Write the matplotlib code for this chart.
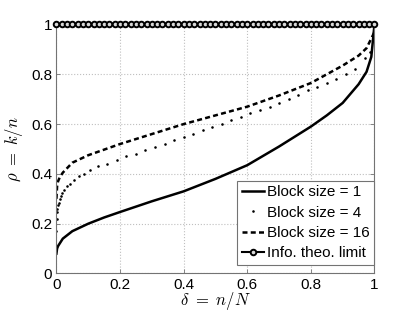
import matplotlib
matplotlib.use("Agg")
import matplotlib.pyplot as plt

plt.rcParams['font.family'] = ['Liberation Sans', 'DejaVu Sans']
plt.rcParams['mathtext.fontset'] = 'cm'

# Block size = 1 (solid)
x1 = [0, 0.002, 0.005, 0.01, 0.02, 0.05, 0.1, 0.15, 0.2, 0.3, 0.4, 0.5,
      0.6, 0.7, 0.8, 0.85, 0.9, 0.95, 0.975, 0.99, 1.0]
y1 = [0.08, 0.10, 0.11, 0.12, 0.14, 0.17, 0.20, 0.225, 0.247, 0.29, 0.33, 0.38,
      0.435, 0.51, 0.59, 0.635, 0.685, 0.76, 0.81, 0.87, 1.0]

# Block size = 4 (dots)
x4 = [0, 0.001, 0.002, 0.003, 0.005, 0.007, 0.01, 0.014, 0.019, 0.025, 0.033,
      0.043, 0.055, 0.07, 0.087, 0.107, 0.13, 0.16, 0.19, 0.22, 0.25, 0.28,
      0.31, 0.34, 0.37, 0.40, 0.43, 0.46, 0.49, 0.52, 0.55, 0.58, 0.61, 0.64,
      0.67, 0.70, 0.73, 0.76, 0.79, 0.82, 0.85, 0.88, 0.91, 0.94, 0.97, 0.985, 1.0]
y4 = [0.17, 0.22, 0.245, 0.26, 0.275, 0.285, 0.30, 0.31, 0.325, 0.335, 0.35,
      0.36, 0.375, 0.39, 0.40, 0.415, 0.43, 0.44, 0.455, 0.47, 0.48, 0.495,
      0.51, 0.52, 0.535, 0.55, 0.56, 0.575, 0.59, 0.60, 0.615, 0.63, 0.645, 0.655,
      0.67, 0.685, 0.70, 0.715, 0.735, 0.75, 0.765, 0.78, 0.80, 0.82, 0.865, 0.89, 0.96]

# Block size = 16 (dashed)
x16 = [0, 0.002, 0.005, 0.01, 0.02, 0.05, 0.1, 0.2, 0.3, 0.4, 0.5, 0.6, 0.7,
       0.8, 0.9, 0.95, 0.975, 1.0]
y16 = [0.30, 0.35, 0.37, 0.385, 0.405, 0.445, 0.475, 0.52, 0.56, 0.60, 0.635,
       0.67, 0.715, 0.765, 0.835, 0.875, 0.905, 0.97]

# Info. theo. limit
limit_x = [i / 60 for i in range(61)]
limit_y = [1.0] * 61

xticks = [0, 0.2, 0.4, 0.6, 0.8, 1]
xticklabels = ['0', '0.2', '0.4', '0.6', '0.8', '1']
yticks = [0, 0.2, 0.4, 0.6, 0.8, 1]
yticklabels = ['0', '0.2', '0.4', '0.6', '0.8', '1']

fig = plt.figure(figsize=(4.15, 3.12), dpi=100)
ax = fig.add_axes([0.136, 0.1234, 0.7664, 0.7981])

ax.plot(x1, y1, color='black', lw=1.8, label='Block size = 1')
ax.plot(x4, y4, color='black', ls='none', marker='.', ms=1.7, label='Block size = 4')
ax.plot(x16, y16, color='black', lw=1.8, ls=(0, (2.0, 1.3)), label='Block size = 16')
ax.plot(limit_x, limit_y, color='black', lw=1.5, marker='o', ms=4.0, mew=1.4,
        mfc='0.85', mec='black', clip_on=False, zorder=5, label='Info. theo. limit')

ax.set_xlim(0, 1)
ax.set_ylim(0, 1)
ax.set_xticks(xticks)
ax.set_xticklabels(xticklabels)
ax.set_yticks(yticks)
ax.set_yticklabels(yticklabels)
ax.tick_params(direction='in', length=3, width=0.6, colors='0.45', labelcolor='black',
               labelsize=11, top=True, right=True, pad=3)
for s in ax.spines.values():
    s.set_color('0.45')
    s.set_linewidth(0.8)
ax.grid(True, ls=':', color='0.75', lw=0.8)

ax.set_xlabel(r'$\delta\ =\ n/N$', fontsize=12)
ax.set_ylabel(r'$\rho\ =\ k/n$', fontsize=12)
ax.xaxis.set_label_coords(0.5, -0.065)
ax.yaxis.set_label_coords(-0.1, 0.5)

leg = ax.legend(loc='lower right', bbox_to_anchor=(1.0, 0.034), borderaxespad=0,
                fancybox=False, edgecolor='0.45', framealpha=1, fontsize=11,
                handlelength=1.45, handletextpad=0.2, labelspacing=0.42,
                borderpad=0.3, markerscale=1.0)
leg.get_frame().set_linewidth(0.8)

fig.savefig('out.png', dpi=100)
